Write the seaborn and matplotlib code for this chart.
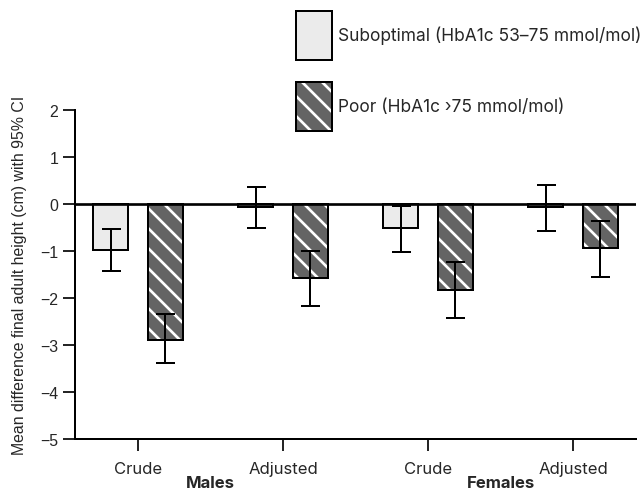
import matplotlib
matplotlib.use("Agg")
import matplotlib.pyplot as plt
from matplotlib.patches import Patch
from matplotlib.colors import to_rgba
from matplotlib.transforms import blended_transform_factory
import seaborn as sns
import pandas as pd

# data
sexes = ['Males', 'Males', 'Females', 'Females']
models = ['Crude', 'Adjusted', 'Crude', 'Adjusted']
levels = ['Suboptimal (HbA1c 53\u201375 mmol/mol)', 'Poor (HbA1c \u203a75 mmol/mol)']

sub_mean = [-0.97, -0.06, -0.50, -0.07]
sub_low = [-1.42, -0.52, -1.02, -0.57]
sub_high = [-0.53, 0.37, -0.04, 0.40]

poor_mean = [-2.89, -1.57, -1.82, -0.93]
poor_low = [-3.38, -2.16, -2.42, -1.55]
poor_high = [-2.34, -1.01, -1.23, -0.36]

cells = [s + ' ' + m for s, m in zip(sexes, models)]
df = pd.DataFrame({
    'cell': cells * 2,
    'level': [levels[0]] * 4 + [levels[1]] * 4,
    'mean': sub_mean + poor_mean,
    'low': sub_low + poor_low,
    'high': sub_high + poor_high,
})

light = '#ebebeb'
dark = '#646464'

def white_hatch(p):
    p.set_hatch('\\\\')
    try:
        p.set_hatchcolor('white')
    except AttributeError:
        p._hatch_color = to_rgba('white')

sns.set_style('ticks')
plt.rcParams['font.family'] = ['Liberation Sans', 'DejaVu Sans']
plt.rcParams['hatch.linewidth'] = 1.6

fig = plt.figure(figsize=(643 / 120, 492 / 120), dpi=120)
ax = fig.add_axes([75 / 643, 52 / 492, 561 / 643, 329 / 492])

sns.barplot(data=df, x='cell', y='mean', hue='level', order=cells,
            hue_order=levels, palette=[light, dark], errorbar=None,
            width=0.75, gap=0.36, edgecolor='black', linewidth=1.2,
            legend=False, ax=ax)

for bar, row in zip(ax.patches, df.itertuples()):
    if row.level == levels[1]:
        white_hatch(bar)
    xc = bar.get_x() + bar.get_width() / 2
    ax.errorbar(xc, row.mean, yerr=[[row.mean - row.low], [row.high - row.mean]],
                fmt='none', ecolor='black', elinewidth=1.2, capsize=5.7,
                capthick=1.2, zorder=4)

ax.axhline(0, color='black', lw=1.6, zorder=5)

ax.set_xlim(-0.434, 3.434)
ax.set_ylim(-5, 2)
ax.set_yticks(range(-5, 3))
ax.set_xticks(range(4))
ax.set_xticklabels(models, family=['Inter', 'DejaVu Sans'], fontsize=10)
ax.tick_params(axis='y', labelsize=9.5, length=7, width=1.2, pad=3)
ax.tick_params(axis='x', length=7, width=1.2, pad=6)
ax.set_xlabel('')
ax.set_ylabel('Mean difference final adult height (cm) with 95% CI', fontsize=9.5)
ax.yaxis.set_label_coords(-0.085, 0.5)
for side in ['top', 'right']:
    ax.spines[side].set_visible(False)
for side in ['left', 'bottom']:
    ax.spines[side].set_linewidth(1.2)
    ax.spines[side].set_color('black')

trans = blended_transform_factory(ax.transData, ax.transAxes)
for xpos, name in [(0.5, 'Males'), (2.5, 'Females')]:
    ax.text(xpos, -0.147, name, transform=trans, ha='center', va='baseline',
            fontsize=10, fontweight='bold', family=['Inter', 'DejaVu Sans'])

handles = [Patch(facecolor=light, edgecolor='black', linewidth=1.2),
           Patch(facecolor=dark, edgecolor='black', linewidth=1.2)]
white_hatch(handles[1])
fig.legend(handles, levels, loc='upper left', bbox_to_anchor=(296 / 643, 1 - 12 / 492),
           frameon=False, borderpad=0, borderaxespad=0, handlelength=2.1,
           handleheight=4.0, labelspacing=1.25, handletextpad=0.35,
           prop={'family': ['Inter', 'DejaVu Sans'], 'size': 10.4})

fig.savefig('out.png', dpi=120)
